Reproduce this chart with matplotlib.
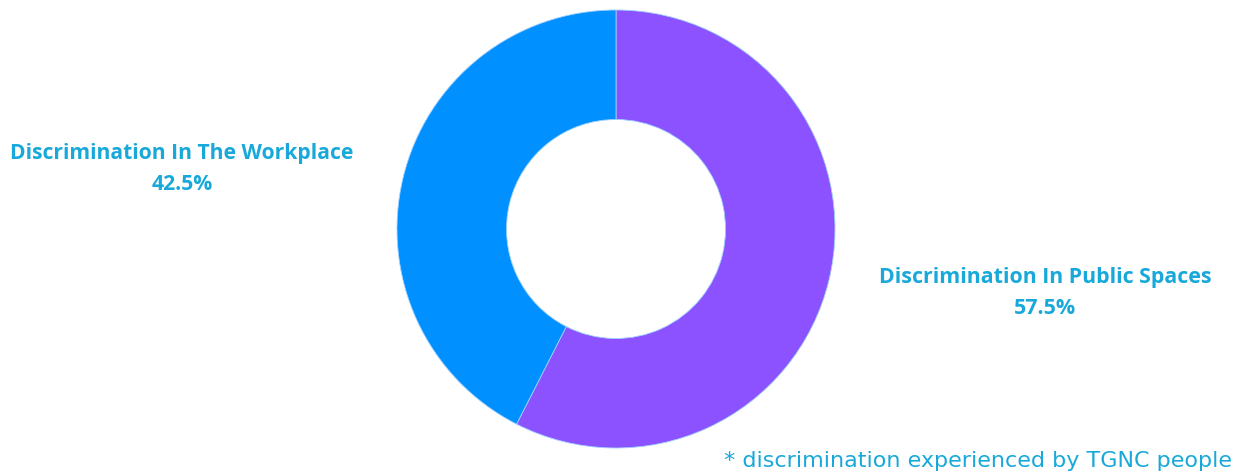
import matplotlib.pyplot as plt

# --- Data ---
labels = ["Discrimination In Public Spaces", "Discrimination In The Workplace"]
shares = [57.5, 42.5]
colors = ["#8C52FF", "#0090FF"]
footnote = "* discrimination experienced by TGNC people"

TEXT_COLOR = "#18A9DA"
W, H = 1243, 474

fig = plt.figure(figsize=(W / 100, H / 100), dpi=100)
ax = fig.add_axes([0, 0, 1, 1])
ax.axis("off")

# donut, clockwise from 12 o'clock (pixel coords, y flipped)
cx, cy, r = 616, H - 229, 219
ax.pie(shares, colors=colors, startangle=90, counterclock=False,
       center=(cx, cy), radius=r,
       wedgeprops=dict(width=r * 0.5, edgecolor="#9fd0ff", linewidth=0.6))
ax.set_xlim(0, W)
ax.set_ylim(0, H)

renderer = fig.canvas.get_renderer()


def fit_width(t, target):
    # rescale font so the text spans the same pixel width as the reference
    w = t.get_window_extent(renderer).width
    t.set_fontsize(t.get_fontsize() * target / w)


# labels: (centre x, line1 y, line2 y, width of line1 in reference)
label_pos = [(1045, 277, 308, 335), (182, 153, 184, 345)]
for (x, y1, y2, wref), lab, val in zip(label_pos, labels, shares):
    t1 = ax.text(x, H - y1, lab, ha="center", va="center", fontsize=14,
                 fontweight="bold", family="Open Sans", color=TEXT_COLOR)
    fit_width(t1, wref)
    ax.text(x, H - y2, f"{val}%", ha="center", va="center",
            fontsize=t1.get_fontsize(), fontweight="bold", family="Open Sans",
            color=TEXT_COLOR)

fn = ax.text(1232, H - 461, footnote, ha="right", va="center",
             fontsize=15, family="DejaVu Sans", color=TEXT_COLOR)
fit_width(fn, 510)

fig.savefig("out.png", dpi=100)
